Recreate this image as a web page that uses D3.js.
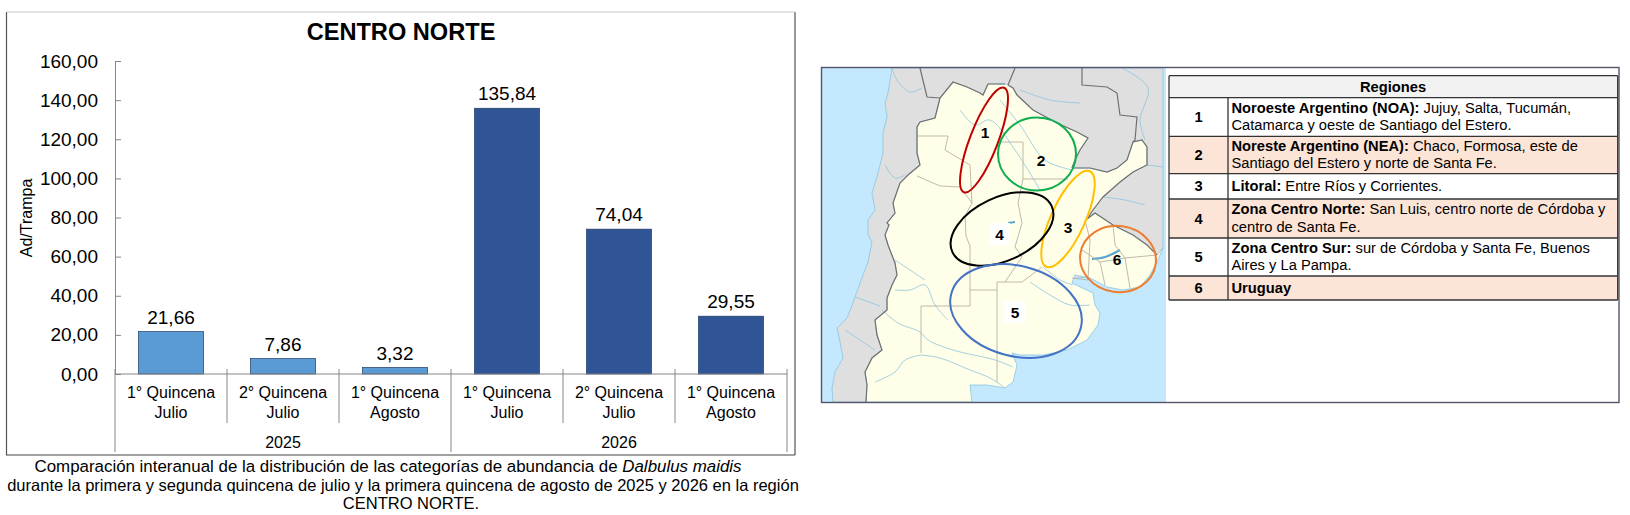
<!DOCTYPE html>
<html lang="es">
<head>
<meta charset="UTF-8">
<title>Centro Norte</title>
<script src="https://d3js.org/d3.v7.min.js"></script>
<style>
  html, body { margin:0; padding:0; background:#fff; }
  text { font-family:"Liberation Sans", Arial, sans-serif; fill:#000; }
</style>
</head>
<body>
<svg id="chart" width="1630" height="515"></svg>
<script>
// chart values
const quincenas = ["1° Quincena", "2° Quincena", "1° Quincena", "1° Quincena", "2° Quincena", "1° Quincena"];
const meses = ["Julio", "Julio", "Agosto", "Julio", "Julio", "Agosto"];
const anios = ["2025", "2025", "2025", "2026", "2026", "2026"];
const valores = [21.66, 7.86, 3.32, 135.84, 74.04, 29.55];
const yTicks = [0, 20, 40, 60, 80, 100, 120, 140, 160];

// region table
const regiones = [
  {n: "1", b: "Noroeste Argentino (NOA):", t: [" Jujuy, Salta, Tucumán,", "Catamarca y oeste de Santiago del Estero."]},
  {n: "2", b: "Noreste Argentino (NEA):", t: [" Chaco, Formosa, este de", "Santiago del Estero y norte de Santa Fe."]},
  {n: "3", b: "Litoral:", t: [" Entre Ríos y Corrientes."]},
  {n: "4", b: "Zona Centro Norte:", t: [" San Luis, centro norte de Córdoba y", "centro de Santa Fe."]},
  {n: "5", b: "Zona Centro Sur:", t: [" sur de Córdoba y Santa Fe, Buenos", "Aires y La Pampa."]},
  {n: "6", b: "Uruguay", t: [""]}
];
const filasY = [97.7, 136.3, 173.7, 199, 238, 276, 300];

// map outlines, in page pixels
const vecinos = [[892,68],[888,93],[885,103],[887,117],[883,133],[883,153],[878,173],[872,193],[875,210],[868,220],[868,235],[872,242],[868,262],[863,275],[855,297],[847,318],[837,328],[840,342],[843,358],[835,372],[832,388],[833,402],[950,402],[1000,340],[1060,280],[1150,270],[1163,247],[1163,68]];
const tierra = [[953,82],[967,87],[980,93],[983,95],[988,84],[1005,84],[1008,85],[1013,88],[1017,95],[1033,110],[1057,123],[1077,132],[1088,138],[1080,150],[1075,160],[1072,168],[1090,168],[1107,172],[1117,168],[1127,160],[1133,142],[1142,140],[1147,147],[1147,165],[1133,172],[1120,182],[1103,197],[1093,210],[1087,219],[1095,213],[1113,225],[1133,235],[1147,245],[1157,255],[1163,248],[1157,262],[1150,275],[1140,287],[1123,290],[1107,287],[1090,278],[1075,275],[1072,283],[1093,293],[1095,305],[1100,313],[1098,325],[1087,340],[1067,350],[1043,355],[1020,355],[1012,353],[1017,365],[1013,382],[1005,388],[987,385],[970,385],[972,402],[866,402],[867,385],[865,372],[872,358],[882,350],[877,335],[875,320],[887,310],[887,298],[892,285],[897,275],[895,263],[888,245],[885,235],[889,225],[887,223],[895,213],[893,203],[900,183],[908,175],[920,165],[917,153],[917,137],[917,127],[920,122],[935,118],[940,98]];
const fronteras = [
  [[866,402],[867,385],[865,372],[872,358],[882,350],[877,335],[875,320],[887,310],[887,298],[892,285],[897,275],[895,263],[888,245],[885,235],[889,225],[887,223],[895,213],[893,203],[900,183],[908,175],[920,165],[917,153],[917,137],[917,127],[920,122],[935,118],[940,98],[953,82],[967,87],[980,93],[983,95],[988,84],[1005,84]],
  [[920,68],[927,97],[940,98]],
  [[1015,68],[1008,85]],
  [[1082,68],[1082,85],[1107,87],[1117,93],[1120,115],[1137,117],[1135,140],[1133,142]],
  [[1072,168],[1090,168],[1107,172],[1117,168],[1127,160],[1133,142],[1142,140],[1147,147],[1147,165],[1133,172],[1120,182],[1103,197],[1093,210],[1087,219],[1095,213],[1113,225],[1133,235],[1147,245],[1157,255]],
  [[1008,85],[1013,88],[1017,95],[1033,110],[1057,123],[1077,132],[1088,138],[1080,150],[1075,160],[1072,168]]
];
const provincias = [
  [[998,142],[1023,142],[1023,179],[1068,179]],
  [[1023,179],[1018,203],[1022,223],[1015,247],[1022,257],[1005,282]],
  [[997,282],[997,382]],
  [[997,282],[1022,282],[1042,267]],
  [[970,290],[997,290]],
  [[970,246],[970,306],[921,306],[921,353]],
  [[972,203],[965,216],[966,236],[970,246]],
  [[918,136],[948,136],[945,150],[970,165],[972,203]],
  [[917,176],[940,186],[960,187],[972,203]],
  [[1072,278],[1088,280],[1090,240],[1085,220]],
  [[1082,250],[1100,262],[1125,258],[1157,255]],
  [[1100,262],[1105,285]],
  [[1125,258],[1130,288]],
  [[1113,225],[1115,245],[1125,258]]
];
const rios = [
  [[882,310],[898,323],[920,332],[928,340],[953,350],[995,360],[1013,367]],
  [[921,355],[905,360],[895,372],[875,382]],
  [[921,355],[940,358],[970,370],[990,378],[1005,388]],
  [[895,290],[910,290],[925,285],[935,305],[948,320]],
  [[1000,100],[1020,125],[1045,160],[1072,170]],
  [[960,110],[975,125],[990,120],[1015,150],[1040,190]],
  [[1020,90],[1050,100],[1080,103]],
  [[1122,68],[1148,88],[1140,120],[1145,140]],
  [[1147,165],[1163,167]],
  [[1103,197],[1125,200],[1145,205]],
  [[1043,267],[1060,280],[1073,285]],
  [[1030,282],[1050,295],[1070,305],[1090,305]],
  [[892,68],[897,80],[910,92],[922,88]],
  [[885,165],[895,178],[905,175]],
  [[895,260],[910,270],[925,280]],
  [[855,297],[880,306]],
  [[845,330],[860,340],[875,350]]
];
const embalses = [
  [[1092,259],[1105,257],[1120,250]],
  [[1008,223],[1015,222]]
];
const elipses = [
  {cx:984, cy:140, rx:56, ry:14, rot:-69, color:"#C00000"},
  {cx:1037, cy:154, rx:39, ry:36.5, rot:0, color:"#0FAF50"},
  {cx:1068, cy:219, rx:52.5, ry:17, rot:-65.5, color:"#FFC000"},
  {cx:1002, cy:229, rx:54.7, ry:31.6, rot:-25, color:"#000000"},
  {cx:1016, cy:311, rx:67, ry:45, rot:15, color:"#4472C4"},
  {cx:1118, cy:259, rx:38, ry:33, rot:8, color:"#ED7D31"}
];
const numeros = [
  {n:"1", x:985, y:132, box:false},
  {n:"2", x:1041, y:160, box:false},
  {n:"3", x:1068, y:227, box:false},
  {n:"4", x:999.5, y:234, box:true},
  {n:"5", x:1015, y:312, box:true},
  {n:"6", x:1117, y:259, box:false}
];

const svg = d3.select("#chart");
const left = 115, right = 787, top0 = 61, base = 374;

// left frame
svg.append("path").attr("d", "M6.5,455V12M795,12V455").attr("fill", "none").attr("stroke", "#555").attr("stroke-width", 1.2);
svg.append("path").attr("d", "M6.5,12H795").attr("fill", "none").attr("stroke", "#c8c8c8").attr("stroke-width", 1.2);
svg.append("path").attr("d", "M6,455H795").attr("fill", "none").attr("stroke", "#444").attr("stroke-width", 1.2);

svg.append("text").attr("x", 401).attr("y", 40).attr("text-anchor", "middle")
  .attr("font-size", 23.6).attr("font-weight", "bold").text("CENTRO NORTE");

const x = d3.scaleBand().domain(d3.range(valores.length)).range([left, right]).paddingInner(0.42).paddingOuter(0.21);
const step = x.step();
const y = d3.scaleLinear().domain([0, 160]).range([base, top0]);

// y axis
const yAxis = svg.append("g").attr("transform", `translate(${left},0)`)
  .call(d3.axisLeft(y).tickValues(yTicks).tickSize(-6).tickPadding(17)
    .tickFormat(d => d3.format(".2f")(d).replace(".", ",")));
yAxis.selectAll("path,line").attr("stroke", "#868686");
yAxis.selectAll("text").attr("font-size", 19).attr("font-family", "Liberation Sans");

svg.append("text").attr("transform", "translate(32,218) rotate(-90)").attr("text-anchor", "middle")
  .attr("font-size", 16).text("Ad/Trampa");

// bars
svg.selectAll("rect.bar").data(valores).enter().append("rect").attr("class", "bar")
  .attr("x", (d, i) => x(i)).attr("width", x.bandwidth())
  .attr("y", d => y(d)).attr("height", d => base - y(d))
  .attr("fill", (d, i) => anios[i] === "2025" ? "#5B9BD5" : "#2F5597")
  .attr("stroke", "#1F3864").attr("stroke-width", 0.7);

svg.selectAll("text.val").data(valores).enter().append("text").attr("class", "val")
  .attr("x", (d, i) => x(i) + x.bandwidth() / 2).attr("y", d => y(d) - 8)
  .attr("text-anchor", "middle").attr("font-size", 19)
  .text(d => d3.format(".2f")(d).replace(".", ","));

// x axis, two levels
svg.append("line").attr("x1", left).attr("x2", right).attr("y1", base).attr("y2", base).attr("stroke", "#868686");
d3.range(valores.length + 1).forEach(i => {
  const sx = left + i * step;
  const deep = i % 3 === 0;
  svg.append("line").attr("x1", sx).attr("x2", sx).attr("y1", 369).attr("y2", deep ? 452 : 423)
    .attr("stroke", "#868686");
});
valores.forEach((d, i) => {
  const cx = left + (i + 0.5) * step;
  svg.append("text").attr("x", cx).attr("y", 398).attr("text-anchor", "middle").attr("font-size", 16).text(quincenas[i]);
  svg.append("text").attr("x", cx).attr("y", 417.5).attr("text-anchor", "middle").attr("font-size", 16).text(meses[i]);
});
[...new Set(anios)].forEach((a, k) => {
  svg.append("text").attr("x", left + (k * 3 + 1.5) * step).attr("y", 447.5)
    .attr("text-anchor", "middle").attr("font-size", 16).text(a);
});

// caption
const cap = svg.append("g");
const c1 = cap.append("text").attr("x", 388).attr("y", 472).attr("text-anchor", "middle").attr("font-size", 16.9);
c1.append("tspan").text("Comparación interanual de la distribución de las categorías de abundancia de ");
c1.append("tspan").attr("font-style", "italic").text("Dalbulus maidis");
cap.append("text").attr("x", 403).attr("y", 490.5).attr("text-anchor", "middle").attr("font-size", 16.5)
  .text("durante la primera y segunda quincena de julio y la primera quincena de agosto de 2025 y 2026 en la región");
cap.append("text").attr("x", 411).attr("y", 509).attr("text-anchor", "middle").attr("font-size", 16.5).text("CENTRO NORTE.");

// map
const mapa = svg.append("g");
const curva = d3.line().curve(d3.curveLinear);
const suave = d3.line().curve(d3.curveCatmullRom);
mapa.append("rect").attr("x", 822).attr("y", 68).attr("width", 344).attr("height", 334).attr("fill", "#C4E9FF");
mapa.append("path").attr("d", curva(vecinos) + "Z").attr("fill", "#DFDFDF").attr("stroke", "#8CC4DE").attr("stroke-width", 0.8);
mapa.append("path").attr("d", curva(tierra) + "Z").attr("fill", "#FFFEE8").attr("stroke", "#8CC4DE").attr("stroke-width", 0.8);
mapa.selectAll("path.rio").data(rios).enter().append("path").attr("class", "rio")
  .attr("d", suave).attr("fill", "none").attr("stroke", "#8CC4DE").attr("stroke-width", 0.8);
mapa.selectAll("path.emb").data(embalses).enter().append("path").attr("class", "emb")
  .attr("d", suave).attr("fill", "none").attr("stroke", "#5AA6CF").attr("stroke-width", 2.2);
mapa.selectAll("path.prov").data(provincias).enter().append("path").attr("class", "prov")
  .attr("d", curva).attr("fill", "none").attr("stroke", "#B5B2A5").attr("stroke-width", 0.9);
mapa.selectAll("path.front").data(fronteras).enter().append("path").attr("class", "front")
  .attr("d", curva).attr("fill", "none").attr("stroke", "#707070").attr("stroke-width", 1.2);
mapa.selectAll("ellipse").data(elipses).enter().append("ellipse")
  .attr("transform", d => `translate(${d.cx},${d.cy}) rotate(${d.rot})`)
  .attr("rx", d => d.rx).attr("ry", d => d.ry)
  .attr("fill", "none").attr("stroke", d => d.color).attr("stroke-width", 2);
mapa.selectAll("rect.caja").data(numeros.filter(d => d.box)).enter().append("rect").attr("class", "caja")
  .attr("x", d => d.x - 10.5).attr("y", d => d.y - 11).attr("width", 21).attr("height", 22).attr("fill", "#fff");
mapa.selectAll("text.num").data(numeros).enter().append("text").attr("class", "num")
  .attr("x", d => d.x).attr("y", d => d.y + 5.5).attr("text-anchor", "middle")
  .attr("font-size", 15.5).attr("font-weight", "bold").text(d => d.n);

// right frame around map and table
svg.append("rect").attr("x", 821.5).attr("y", 67.5).attr("width", 797.5).attr("height", 335)
  .attr("fill", "none").attr("stroke", "#55556a").attr("stroke-width", 1.4);

// table
const tLeft = 1169, tSep = 1228, tRight = 1617.7, tTop = 75.7, tFont = 14.7;
const tabla = svg.append("g");
tabla.append("rect").attr("x", tLeft).attr("y", tTop).attr("width", tRight - tLeft).attr("height", filasY[0] - tTop).attr("fill", "#F2F2F2");
regiones.forEach((r, i) => {
  const y0 = filasY[i], y1 = filasY[i + 1];
  tabla.append("rect").attr("x", tLeft).attr("y", y0).attr("width", tRight - tLeft).attr("height", y1 - y0)
    .attr("fill", i % 2 ? "#FCE4D6" : "#fff");
  tabla.append("text").attr("x", 1198.7).attr("y", (y0 + y1) / 2 + 5).attr("text-anchor", "middle")
    .attr("font-size", tFont).attr("font-weight", "bold").text(r.n);
  const cy = (y0 + y1) / 2;
  const l1 = tabla.append("text").attr("x", 1231.5).attr("y", r.t.length > 1 ? cy - 4.5 : cy + 4.5).attr("font-size", tFont);
  l1.append("tspan").attr("font-weight", "bold").text(r.b);
  l1.append("tspan").attr("xml:space", "preserve").text(r.t[0]);
  if (r.t.length > 1) tabla.append("text").attr("x", 1231.5).attr("y", cy + 13).attr("font-size", tFont).text(r.t[1]);
});
tabla.append("text").attr("x", 1393).attr("y", 91.5).attr("text-anchor", "middle")
  .attr("font-size", tFont).attr("font-weight", "bold").text("Regiones");
[tTop].concat(filasY).forEach(v => {
  tabla.append("line").attr("x1", tLeft).attr("x2", tRight).attr("y1", v).attr("y2", v).attr("stroke", "#333").attr("stroke-width", 1.3);
});
tabla.append("line").attr("x1", tLeft).attr("x2", tLeft).attr("y1", tTop).attr("y2", 300).attr("stroke", "#333").attr("stroke-width", 1.3);
tabla.append("line").attr("x1", tRight).attr("x2", tRight).attr("y1", tTop).attr("y2", 300).attr("stroke", "#333").attr("stroke-width", 1.3);
tabla.append("line").attr("x1", tSep).attr("x2", tSep).attr("y1", filasY[0]).attr("y2", 300).attr("stroke", "#333").attr("stroke-width", 1.3);
</script>
</body>
</html>
